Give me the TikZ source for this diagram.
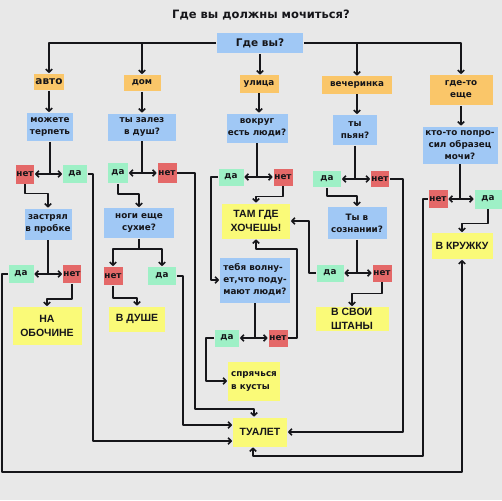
\documentclass[tikz,border=0pt]{standalone}
\usepackage{fontspec}
\usetikzlibrary{arrows.meta}
\setmainfont{DejaVu Sans}
\newfontfamily\capsfont{Liberation Sans}
\definecolor{bggray}{RGB}{232,232,232}
\definecolor{askblue}{RGB}{160,200,245}
\definecolor{placeorange}{RGB}{250,198,105}
\definecolor{nored}{RGB}{228,104,104}
\definecolor{yesgreen}{RGB}{158,240,198}
\definecolor{endyellow}{RGB}{250,250,120}
\definecolor{inkgray}{RGB}{22,22,26}
\begin{document}
\begin{tikzpicture}[x=1pt, y=-1pt, >={Straight Barb[length=3pt,width=6.5pt]}, line join=round, line width=1.6pt, draw=inkgray,
  box/.style={inner sep=0pt, align=center, text=inkgray, font=\bfseries\fontsize{8.8}{12}\selectfont},
  ask/.style={box, fill=askblue},
  place/.style={box, fill=placeorange},
  yesbox/.style={box, fill=yesgreen},
  nobox/.style={box, fill=nored},
  final/.style={box, fill=endyellow, font=\capsfont\bfseries\fontsize{10.5}{14}\selectfont}]
\fill[bggray] (0,0) rectangle (502,500);
\useasboundingbox (0,0) rectangle (502,500);
\node[font=\bfseries\fontsize{11.5}{14}\selectfont, text=inkgray] (title) at (261,15) {Где вы должны мочиться?};
\node[ask, minimum width=86pt, minimum height=20pt, font=\bfseries\fontsize{10.5}{12}\selectfont] (where) at (260,43) {Где вы?};
% places
\node[place, minimum width=30pt, minimum height=16pt, font=\bfseries\fontsize{10.5}{12}\selectfont] (car) at (49,82) {авто};
\node[place, minimum width=37pt, minimum height=16pt] (home) at (142,83) {дом};
\node[place, minimum width=39pt, minimum height=17pt] (street) at (259,84) {улица};
\node[place, minimum width=70pt, minimum height=17pt] (party) at (357,85) {вечеринка};
\node[place, minimum width=63pt, minimum height=30pt] (other) at (461,90) {где-то\\еще};
\draw[->] (where.west) -| (car);
\draw[->] (where.east) -| (other);
\draw[->] (home |- where) -- (home);
\draw[->] (party |- where) -- (party);
\draw[->] (where.south) -- (where.south |- street.north);
% questions
\node[ask, minimum width=46pt, minimum height=28pt] (canwait) at (50,127) {можете\\терпеть};
\node[ask, minimum width=68pt, minimum height=27pt] (shower) at (142,127) {ты залез\\в душ?};
\node[ask, minimum width=61pt, minimum height=29pt] (people) at (257,128) {вокруг\\есть люди?};
\node[ask, minimum width=44pt, minimum height=30pt] (drunk) at (355,130) {ты\\пьян?};
\node[ask, minimum width=75pt, minimum height=37pt] (sample) at (460,145) {кто-то попро-\\сил образец\\мочи?};
\foreach \a/\b in {car/canwait, home/shower, street/people, party/drunk, other/sample}
  \draw[->] (\a) -- (\a |- \b.north);
% first answers
\node[nobox, minimum width=18pt, minimum height=19pt] (no1) at (25,174) {нет};
\node[yesbox, minimum width=24pt, minimum height=18pt] (yes1) at (75,174) {да};
\node[yesbox, minimum width=20pt, minimum height=20pt] (yes2) at (118,173) {да};
\node[nobox, minimum width=19pt, minimum height=20pt] (no2) at (167,173) {нет};
\node[yesbox, minimum width=25pt, minimum height=17pt] (yes3) at (231,177) {да};
\node[nobox, minimum width=19pt, minimum height=17pt] (no3) at (283,177) {нет};
\node[yesbox, minimum width=28pt, minimum height=16pt] (yes4) at (327,179) {да};
\node[nobox, minimum width=18pt, minimum height=16pt] (no4) at (380,179) {нет};
\node[nobox, minimum width=19pt, minimum height=18pt] (no5) at (438,199) {нет};
\node[yesbox, minimum width=27pt, minimum height=19pt] (yes5) at (488,199) {да};
% second level
\node[ask, minimum width=47pt, minimum height=31pt] (jam) at (48,224) {застрял\\в пробке};
\node[ask, minimum width=70pt, minimum height=30pt] (feet) at (139,223) {ноги еще\\сухие?};
\node[final, minimum width=68pt, minimum height=35pt] (wish) at (256,221) {ТАМ ГДЕ\\ХОЧЕШЬ!};
\node[ask, minimum width=59pt, minimum height=32pt] (aware) at (357,223) {Ты в\\сознании?};
\node[final, minimum width=61pt, minimum height=26pt] (mug) at (462,246) {В КРУЖКУ};
\draw[->] (no1.south) -- ++(0,9) -| (jam);
\draw[->] (yes2.south) -- ++(0,10) -| (feet);
\draw[->] (no3.south) -- ++(0,10) -| (wish);
\draw[->] (yes4.south) -- ++(0,8) -| (aware);
\draw[->] (yes5.south) -- ++(0,14) -| (mug);
% third level
\node[yesbox, minimum width=25pt, minimum height=18pt] (yes6) at (21,274) {да};
\node[nobox, minimum width=18pt, minimum height=18pt] (no6) at (72,274) {нет};
\node[nobox, minimum width=19pt, minimum height=18pt] (no7) at (113,276) {нет};
\node[yesbox, minimum width=28pt, minimum height=18pt] (yes7) at (162,276) {да};
\node[ask, minimum width=70pt, minimum height=45pt, align=left] (worry) at (255,280) {тебя волну-\\ет,что поду-\\мают люди?};
\node[yesbox, minimum width=27pt, minimum height=17pt] (yes8) at (330,273) {да};
\node[nobox, minimum width=19pt, minimum height=17pt] (no8) at (382,273) {нет};
\node[yesbox, minimum width=24pt, minimum height=17pt] (yes9) at (227,338) {да};
\node[nobox, minimum width=19pt, minimum height=17pt] (no9) at (278,338) {нет};
\foreach \q/\d in {canwait/no1, shower/yes2, people/yes3, drunk/yes4, sample/no5, jam/yes6, aware/yes8, worry/yes9}
  \draw (\q) -- (\q |- \d);
\foreach \a/\b in {no1/yes1, yes2/no2, yes3/no3, yes4/no4, no5/yes5, yes6/no6, yes8/no8, yes9/no9}
  \draw[<->] (\a) -- (\b);
\coordinate (split7) at ([yshift=-10pt]feet.south);
\draw (feet) -- (split7);
\draw[->] (split7) -| (no7);
\draw[->] (split7) -| (yes7);
\draw[->] (yes3.west) -- ++(-7,0) |- (worry);
\draw[->] (yes8.west) -- ++(-7,0) |- (wish);
% endings
\node[final, minimum width=69pt, minimum height=38pt] (roadside) at (47,326) {НА\\ОБОЧИНЕ};
\node[final, minimum width=56pt, minimum height=25pt] (inshower) at (137,319) {В ДУШЕ};
\node[final, minimum width=73pt, minimum height=24pt, align=left] (pants) at (352,319) {В СВОИ\\ШТАНЫ};
\node[final, minimum width=52pt, minimum height=39pt, align=left, font=\bfseries\fontsize{8.8}{13}\selectfont] (bush) at (254,381) {спрячься\\в кусты};
\node[final, minimum width=54pt, minimum height=29pt] (toilet) at (260,432) {ТУАЛЕТ};
\draw[->] (no6.south) -- ++(0,15) -| (roadside);
\draw[->] (no7.south) -- ++(0,12) -| (inshower);
\draw[->] (no8.south) -- ++(0,11) -| (pants);
\draw[->] (yes9.west) -- ++(-8,0) |- (bush);
\coordinate (wishback) at (297,249);
\draw[->] (no9.east) -| (wishback) -| (wish.south);
% to the toilet
\coordinate (toptoilet) at (195,409);
\coordinate (bottomtoilet) at (423,456);
\coordinate (farleft) at (2,472);
\draw[->] (yes1.east) -- ++(5,0) |- ([yshift=-9pt]toilet.west);
\draw[->] (yes7.east) -- ++(6,0) |- ([yshift=7pt]toilet.west);
\draw[->] (no2.east) -| (toptoilet) -| ([xshift=-6pt]toilet.north);
\draw[->] (no4.east) -- ++(13,0) |- (toilet.east);
\draw[->] (no5.west) -| (bottomtoilet) -| ([xshift=-7pt]toilet.south);
\draw[->] (yes6.west) -| (farleft) -| (mug.south);
\end{tikzpicture}
\end{document}
